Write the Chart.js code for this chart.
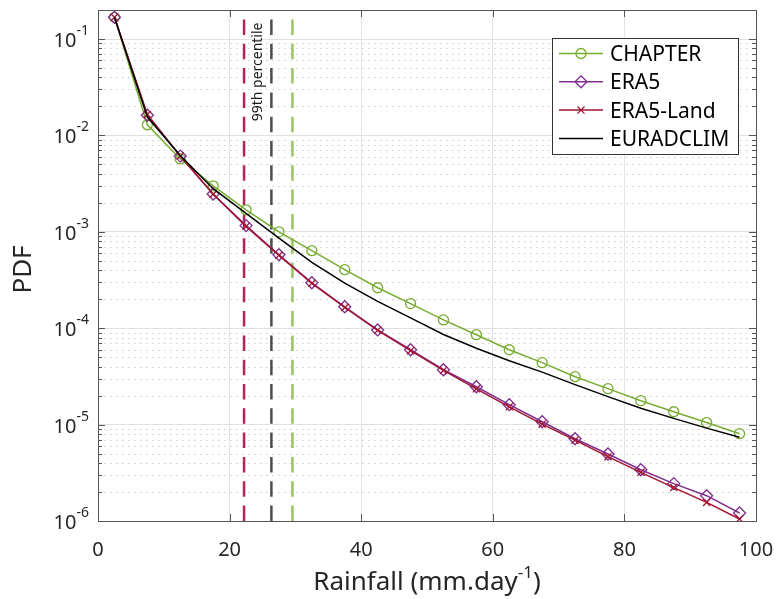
<!DOCTYPE html>
<html>
<head>
<meta charset="utf-8">
<title>Rainfall PDF</title>
<script src="https://cdn.jsdelivr.net/npm/chart.js@4.4.0/dist/chart.umd.min.js"></script>
<style>
  html, body { margin: 0; padding: 0; background: #fff; }
  #wrap { width: 778px; height: 599px; position: relative; }
</style>
</head>
<body>
<div id="wrap"><canvas id="pdf"></canvas></div>
<script>
'use strict';

// bin centres (mm/day)
var binCentres = [2.5, 7.5, 12.5, 17.5, 22.5, 27.5, 32.5, 37.5, 42.5, 47.5,
                  52.5, 57.5, 62.5, 67.5, 72.5, 77.5, 82.5, 87.5, 92.5, 97.5];

var chapter = [0.168, 0.0129, 0.0057, 0.0030, 0.00169, 0.00100, 0.000637, 0.000405, 0.000263, 0.000180,
               0.000122, 8.56e-5, 5.98e-5, 4.39e-5, 3.14e-5, 2.36e-5, 1.77e-5, 1.36e-5, 1.05e-5, 8.05e-6];
var era5 = [0.168, 0.0162, 0.0061, 0.00247, 0.00116, 0.000578, 0.000296, 0.000167, 9.6e-5, 5.98e-5,
            3.71e-5, 2.47e-5, 1.61e-5, 1.07e-5, 7.13e-6, 4.95e-6, 3.40e-6, 2.44e-6, 1.83e-6, 1.21e-6];
var era5Land = [0.168, 0.0165, 0.0061, 0.00245, 0.00114, 0.000570, 0.000292, 0.000164, 9.5e-5, 5.85e-5,
                3.65e-5, 2.35e-5, 1.53e-5, 1.01e-5, 6.9e-6, 4.65e-6, 3.2e-6, 2.22e-6, 1.56e-6, 1.05e-6];
var euradclim = [0.168, 0.0155, 0.0062, 0.0028, 0.00155, 0.00086, 0.000482, 0.000294, 0.00019, 0.000128,
                 8.6e-5, 6.2e-5, 4.6e-5, 3.5e-5, 2.6e-5, 1.95e-5, 1.48e-5, 1.16e-5, 9.2e-6, 7.4e-6];

// 99th percentile per dataset: ERA5-Land, EURADCLIM, CHAPTER
var p99Values = [22.2, 26.35, 29.55];
var p99Colors = ['#B4245A', '#4D4D4D', '#97C462'];

var xTicks = [0, 20, 40, 60, 80, 100];
var yExponents = [-6, -5, -4, -3, -2, -1];
var yMin = 1e-6, yMax = 0.2;

var FONT = '"Noto Sans", "Open Sans", sans-serif';
var TEXT = '#262626';

function toPoints(ys) {
    return binCentres.map(function(x, i) { return { x: x, y: ys[i] }; });
}

var series = [
    { label: 'CHAPTER',   data: chapter,   color: '#77AC30', marker: 'circle',   radius: 5 },
    { label: 'ERA5',      data: era5,      color: '#7E2F8E', marker: 'rectRot',  radius: 6 },
    { label: 'ERA5-Land', data: era5Land,  color: '#A2142F', marker: 'crossRot', radius: 5 },
    { label: 'EURADCLIM', data: euradclim, color: '#000000', marker: false,      radius: 0 }
];

var datasets = [];
p99Values.forEach(function(v, i) {
    datasets.push({
        label: 'p99-' + i,
        data: [{ x: v, y: yMin }, { x: v, y: yMax }],
        borderColor: p99Colors[i],
        borderWidth: 2.5,
        borderDash: [15.5, 8.8],
        pointRadius: 0,
        order: 10
    });
});
series.forEach(function(s, i) {
    datasets.push({
        label: s.label,
        data: toPoints(s.data),
        borderColor: s.color,
        borderWidth: 1.5,
        pointStyle: s.marker,
        pointRadius: s.radius,
        pointBorderWidth: 1.3,
        pointBorderColor: s.color,
        pointBackgroundColor: 'rgba(0,0,0,0)',
        tension: 0,
        order: 4 - i
    });
});

function drawMarker(ctx, style, x, y, r) {
    ctx.beginPath();
    if (style === 'circle') {
        ctx.arc(x, y, r, 0, Math.PI * 2);
    } else if (style === 'rectRot') {
        ctx.moveTo(x, y - r); ctx.lineTo(x + r, y); ctx.lineTo(x, y + r); ctx.lineTo(x - r, y);
        ctx.closePath();
    } else if (style === 'crossRot') {
        var d = r * Math.SQRT1_2;
        ctx.moveTo(x - d, y - d); ctx.lineTo(x + d, y + d);
        ctx.moveTo(x + d, y - d); ctx.lineTo(x - d, y + d);
    }
    ctx.stroke();
}

// MATLAB-style axes: minor grid, box, inward ticks, labels, legend
var axesPlugin = {
    id: 'matlabAxes',
    beforeDatasetsDraw: function(chart) {
        var ctx = chart.ctx, a = chart.chartArea, ys = chart.scales.y;
        ctx.save();
        ctx.strokeStyle = 'rgba(0,0,0,0.2)';
        ctx.lineWidth = 1;
        ctx.setLineDash([1.5, 4.5]);
        yExponents.forEach(function(e) {
            for (var k = 2; k <= 9; k++) {
                var v = k * Math.pow(10, e);
                if (v >= yMax) continue;
                var py = Math.round(ys.getPixelForValue(v)) + 0.5;
                ctx.beginPath(); ctx.moveTo(a.left, py); ctx.lineTo(a.right, py); ctx.stroke();
            }
        });
        ctx.restore();
    },
    afterDatasetsDraw: function(chart) {
        var ctx = chart.ctx, a = chart.chartArea;
        var xs = chart.scales.x, ys = chart.scales.y;
        ctx.save();

        // box
        ctx.strokeStyle = '#555';
        ctx.lineWidth = 1;
        ctx.strokeRect(Math.round(a.left) + 0.5, Math.round(a.top) + 0.5,
                       Math.round(a.right - a.left), Math.round(a.bottom - a.top));

        // ticks
        ctx.beginPath();
        xTicks.forEach(function(t) {
            var px = Math.round(xs.getPixelForValue(t)) + 0.5;
            ctx.moveTo(px, a.bottom); ctx.lineTo(px, a.bottom - 7);
            ctx.moveTo(px, a.top); ctx.lineTo(px, a.top + 7);
        });
        yExponents.forEach(function(e) {
            for (var k = 1; k <= 9; k++) {
                var v = k * Math.pow(10, e);
                if (v > yMax) continue;
                var len = k === 1 ? 7 : 4;
                var py = Math.round(ys.getPixelForValue(v)) + 0.5;
                ctx.moveTo(a.left, py); ctx.lineTo(a.left + len, py);
                ctx.moveTo(a.right, py); ctx.lineTo(a.right - len, py);
            }
        });
        ctx.stroke();

        // x tick labels
        ctx.fillStyle = TEXT;
        ctx.font = '20px ' + FONT;
        ctx.textAlign = 'center';
        ctx.textBaseline = 'alphabetic';
        xTicks.forEach(function(t) {
            ctx.fillText(String(t), xs.getPixelForValue(t), a.bottom + 35);
        });

        // y tick labels 10^e
        yExponents.forEach(function(e) {
            var py = ys.getPixelForValue(Math.pow(10, e));
            var sup = String(e);
            ctx.font = '14px ' + FONT;
            var wSup = ctx.measureText(sup).width;
            ctx.textAlign = 'right';
            var right = a.left - 9;
            ctx.fillText(sup, right, py - 4);
            ctx.font = '20px ' + FONT;
            ctx.fillText('10', right - wSup, py + 8);
        });

        // x title with superscript
        var main = 'Rainfall (mm.day', supT = '-1', tail = ')';
        ctx.font = '26px ' + FONT;
        var w1 = ctx.measureText(main).width, w3 = ctx.measureText(tail).width;
        ctx.font = '17px ' + FONT;
        var w2 = ctx.measureText(supT).width;
        var cx = (a.left + a.right) / 2;
        var x0 = cx - (w1 + w2 + w3) / 2;
        var base = a.bottom + 69;
        ctx.textAlign = 'left';
        ctx.font = '26px ' + FONT;
        ctx.fillText(main, x0, base);
        ctx.font = '17px ' + FONT;
        ctx.fillText(supT, x0 + w1, base - 12);
        ctx.font = '26px ' + FONT;
        ctx.fillText(tail, x0 + w1 + w2, base);

        // y title
        ctx.save();
        ctx.translate(24, (a.top + a.bottom) / 2 + 4);
        ctx.rotate(-Math.PI / 2);
        ctx.font = '26px ' + FONT;
        ctx.textAlign = 'center';
        ctx.textBaseline = 'middle';
        ctx.fillText('PDF', 0, 0);
        ctx.restore();

        // percentile annotation between the first two lines
        ctx.save();
        ctx.translate(xs.getPixelForValue((p99Values[0] + p99Values[1]) / 2) + 4,
                      ys.getPixelForValue(0.014));
        ctx.rotate(-Math.PI / 2);
        ctx.font = '14px ' + FONT;
        ctx.textAlign = 'left';
        ctx.textBaseline = 'alphabetic';
        ctx.fillStyle = '#1a1a1a';
        ctx.fillText('99th percentile', 0, 0);
        ctx.restore();

        // legend
        var lx = 552.5, ly = 38.5, lw = 186, lh = 116;
        ctx.fillStyle = '#fff';
        ctx.fillRect(lx, ly, lw, lh);
        ctx.strokeStyle = '#333';
        ctx.lineWidth = 1;
        ctx.strokeRect(lx, ly, lw, lh);
        series.forEach(function(s, i) {
            var y = 53.5 + i * 28.3;
            ctx.strokeStyle = s.color;
            ctx.lineWidth = 1.5;
            ctx.setLineDash([]);
            ctx.beginPath(); ctx.moveTo(559, y); ctx.lineTo(603, y); ctx.stroke();
            if (s.marker) {
                ctx.lineWidth = 1.3;
                drawMarker(ctx, s.marker, 581, y, s.radius);
            }
            ctx.fillStyle = '#000';
            ctx.font = '21px ' + FONT;
            ctx.textAlign = 'left';
            ctx.fillText(s.label, 610, y + 7.5);
        });

        ctx.restore();
    }
};

var chart = new Chart(document.getElementById('pdf').getContext('2d'), {
    type: 'line',
    data: { datasets: datasets },
    options: {
        responsive: true,
        maintainAspectRatio: false,
        animation: false,
        devicePixelRatio: 1,
        layout: { padding: { left: 98, right: 22, top: 10, bottom: 78 } },
        plugins: {
            legend: { display: false },
            tooltip: { enabled: false }
        },
        scales: {
            x: {
                type: 'linear',
                min: 0,
                max: 100,
                afterBuildTicks: function(scale) {
                    scale.ticks = xTicks.map(function(v) { return { value: v }; });
                },
                ticks: { display: false },
                border: { display: false },
                grid: { color: '#e4e4e4', lineWidth: 1, drawTicks: false }
            },
            y: {
                type: 'logarithmic',
                min: yMin,
                max: yMax,
                afterBuildTicks: function(scale) {
                    scale.ticks = yExponents.map(function(e) { return { value: Math.pow(10, e) }; });
                },
                ticks: { display: false },
                border: { display: false },
                grid: { color: '#e0e0e0', lineWidth: 1, drawTicks: false }
            }
        }
    },
    plugins: [axesPlugin]
});
</script>
</body>
</html>
